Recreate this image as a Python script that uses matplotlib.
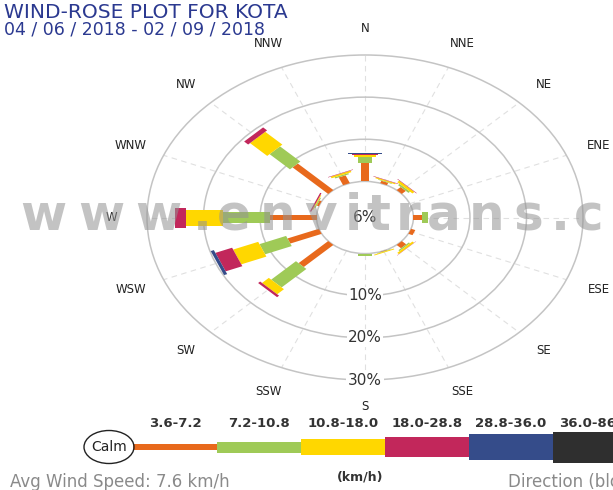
import numpy as np
import matplotlib
matplotlib.use("Agg")
import matplotlib.pyplot as plt
from matplotlib.patches import Polygon, Circle, Ellipse
from matplotlib.font_manager import FontProperties, findfont
from matplotlib.ft2font import FT2Font, LoadFlags

# ---------------- data ----------------
directions = ["N", "NNE", "NE", "ENE", "E", "ESE", "SE", "SSE",
              "S", "SSW", "SW", "WSW", "W", "WNW", "NW", "NNW"]
speed_bins = ["3.6-7.2", "7.2-10.8", "10.8-18.0", "18.0-28.8", "28.8-36.0", "36.0-86.4"]
freq_3_7 = [4.3, 0.6, 1.0, 0.0, 1.5, 0.8, 1.1, 0.1, 0.2, 0.0, 7.4, 6.0, 8.3, 0.4, 8.9, 2.0]
freq_7_11 = [1.4, 0.15, 0.4, 0.0, 1.0, 0.0, 0.3, 0.1, 0.4, 0.0, 6.2, 5.1, 8.3, 0.2, 5.1, 0.3]
freq_11_18 = [0.55, 0.25, 0.5, 0.0, 0.1, 0.0, 0.4, 0.2, 0.0, 0.0, 1.7, 4.8, 6.5, 0.15, 4.3, 0.4]
freq_18_29 = [0.3, 0.1, 0.1, 0.0, 0.0, 0.0, 0.05, 0.0, 0.0, 0.0, 0.5, 3.2, 1.9, 0.25, 1.0, 0.1]
freq_29_36 = [0.3, 0.0, 0.0, 0.0, 0.0, 0.0, 0.0, 0.0, 0.0, 0.0, 0.0, 0.6, 0.0, 0.0, 0.0, 0.0]
freq_36_up = [0.0] * 16
calm_pct = 6
ring_pcts = [10, 20, 30]
avg_speed = 7.6
title = "WIND-ROSE PLOT FOR KOTA"
period = "04 / 06 / 2018 - 02 / 09 / 2018"
watermark = "www.envitrans.com"

# ---------------- style ----------------
colors = ["#e8691c", "#9fca57", "#ffd700", "#c2275b", "#354c8a", "#2f2f2f"]
bar_px = [5.5, 11, 16, 20, 26, 31]
W, H = 613, 490
DPI = 100
fig = plt.figure(figsize=(W / DPI, H / DPI), dpi=DPI)

cx, cy = 365, 217.5          # rose centre (px)
rx, ry = 218, 162.5          # outer ring radii (px)
HOLE = 8.57                  # calm-circle radius in percent units
RMAX = HOLE + ring_pcts[-1]
ax = fig.add_axes([(cx - rx) / W, 1 - (cy + ry) / H, 2 * rx / W, 2 * ry / H])
ax.set_xlim(-RMAX, RMAX)
ax.set_ylim(-RMAX, RMAX)
ax.axis("off")
unit_px = ry / RMAX

theta = np.deg2rad(np.arange(16) * 22.5)
ux, uy = np.sin(theta), np.cos(theta)

# grid spokes
for t in range(16):
    ax.plot([HOLE * ux[t], RMAX * ux[t]], [HOLE * uy[t], RMAX * uy[t]],
            color="#e0e0e0", lw=0.8, ls=(0, (5, 4)), zorder=1)
# rings
for r in [0] + ring_pcts:
    ax.add_patch(Circle((0, 0), HOLE + r, fill=False, ec="#c4c4c4", lw=1.1,
                        zorder=1, clip_on=False))

# stacked bars
series = [freq_3_7, freq_7_11, freq_11_18, freq_18_29, freq_29_36, freq_36_up]
cum = np.zeros(16)
for k, vals in enumerate(series):
    vals = np.asarray(vals)
    hw = bar_px[k] / unit_px / 2
    for t in range(16):
        if vals[t] <= 0:
            continue
        r0, r1 = HOLE + cum[t], HOLE + cum[t] + vals[t]
        nx, ny = uy[t], -ux[t]
        pts = [(r0 * ux[t] + hw * nx, r0 * uy[t] + hw * ny),
               (r1 * ux[t] + hw * nx, r1 * uy[t] + hw * ny),
               (r1 * ux[t] - hw * nx, r1 * uy[t] - hw * ny),
               (r0 * ux[t] - hw * nx, r0 * uy[t] - hw * ny)]
        ax.add_patch(Polygon(pts, closed=True, fc=colors[k], ec="none",
                             zorder=3 + k, clip_on=False))
    cum += vals

# ring labels
ax.text(0, 0, f"{calm_pct}%", ha="center", va="center", fontsize=11, color="#333333", zorder=10)
for r in ring_pcts:
    ax.text(0, -(HOLE + r), f"{r}%", ha="center", va="center", fontsize=11,
            color="#333333", zorder=10,
            bbox=dict(boxstyle="square,pad=0.1", fc="white", ec="none"))

# direction labels
R_LAB = 44.8
for t, d in enumerate(directions):
    ax.text(R_LAB * ux[t], R_LAB * uy[t], d, ha="center", va="center",
            fontsize=8.5, color="#222222", clip_on=False, zorder=10)

# title
fig.text(4 / W, 1 - 12.5 / H, title, ha="left", va="center", fontsize=14.5, color="#2b3990")
fig.text(4 / W, 1 - 29.5 / H, period, ha="left", va="center", fontsize=12.5, color="#2b3990")

# watermark (per character, widened spacing)
wm_size = 36
wm_prop = FontProperties(family="DejaVu Sans", weight="bold", size=wm_size)
ft = FT2Font(findfont(wm_prop))
ft.set_size(wm_size, DPI)
x = 20.0
spread = 1.25
for ch in watermark:
    fig.text(x / W, 1 - 230 / H, ch, ha="left", va="baseline", fontproperties=wm_prop,
             color="#939393", alpha=0.55, zorder=20)
    g = ft.load_char(ord(ch), flags=LoadFlags.NO_HINTING)
    x += g.linearHoriAdvance / 65536 * spread

# ---------------- legend ----------------
seg_px = 84
leg_h = 40
lax = fig.add_axes([133 / W, (H - 447 - leg_h / 2) / H, 6 * seg_px / W, leg_h / H])
lax.set_xlim(0, 6)
lax.set_ylim(-leg_h / 2, leg_h / 2)
lax.axis("off")
for k, lab in enumerate(speed_bins):
    lax.bar(k, bar_px[k], bottom=-bar_px[k] / 2, width=1, align="edge",
            color=colors[k], clip_on=False)
    lax.text(k + 0.5, 24, lab, ha="center", va="center", fontsize=9.5,
             fontweight="bold", color="#333333", clip_on=False)
lax.add_patch(Ellipse((-24 / seg_px, 0), 50 / seg_px, 33, fill=False, ec="#222222",
                      lw=1.0, clip_on=False))
lax.text(-24 / seg_px, 0, "Calm", ha="center", va="center", fontsize=10, color="#222222")
lax.text(2.7, -30, "(km/h)", ha="center", va="center", fontsize=9,
         fontweight="bold", color="#333333", clip_on=False)

fig.text(10 / W, 1 - 482 / H, f"Avg Wind Speed: {avg_speed} km/h", ha="left", va="center",
         fontsize=12, color="#8a8a8a")
fig.text(508 / W, 1 - 482 / H, "Direction (blowing from)", ha="left", va="center",
         fontsize=12, color="#8a8a8a")

fig.savefig("out.png", dpi=DPI)
